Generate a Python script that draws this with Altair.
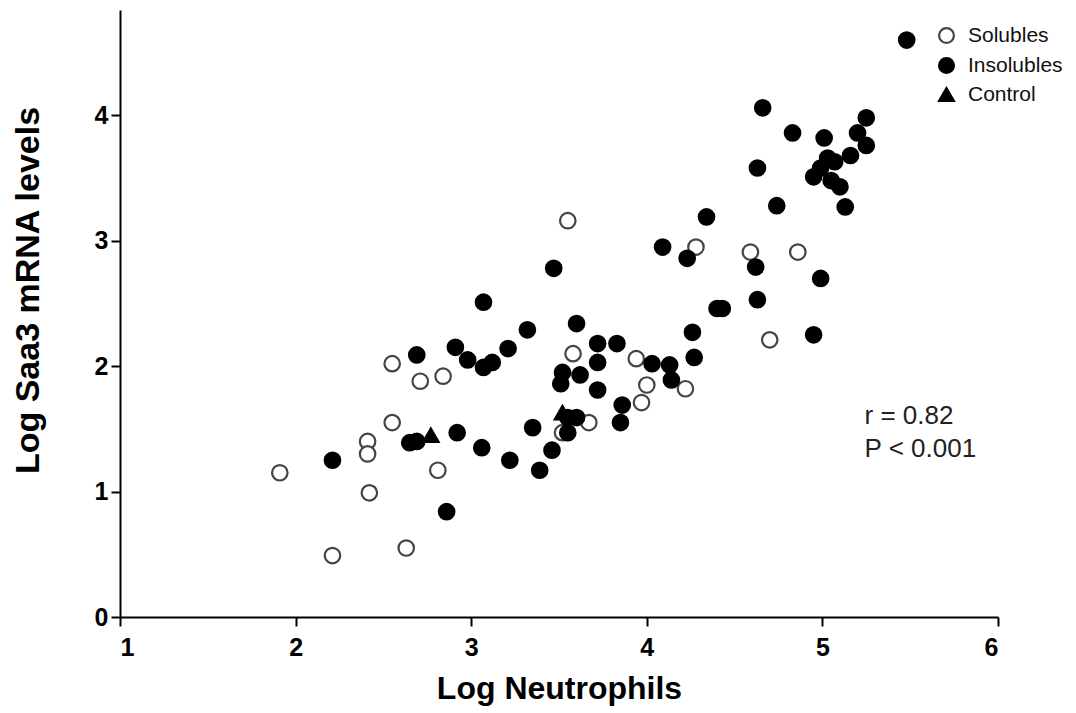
import altair as alt
import pandas as pd

# ---- data ----
sol_x = [1.91, 2.21, 2.41, 2.41, 2.42, 2.55, 2.55, 2.71, 2.84, 2.81, 2.63, 3.55,
         3.58, 3.67, 3.52, 3.94, 4.00, 3.97, 4.22, 4.28, 4.59, 4.86, 4.70]
sol_y = [1.15, 0.49, 1.40, 1.30, 0.99, 2.02, 1.55, 1.88, 1.92, 1.17, 0.55, 3.16,
         2.10, 1.55, 1.47, 2.06, 1.85, 1.71, 1.82, 2.95, 2.91, 2.91, 2.21]

ins_x = [2.21, 2.69, 2.65, 2.69, 2.86, 2.91, 2.92, 2.98, 3.07, 3.12, 3.07, 3.06,
         3.21, 3.22, 3.32, 3.35, 3.39, 3.46, 3.47, 3.51, 3.52, 3.55, 3.60, 3.55,
         3.60, 3.62, 3.72, 3.83, 3.72, 3.72, 3.86, 3.85, 4.03, 4.13, 4.14, 4.09,
         4.23, 4.34, 4.26, 4.27, 4.40, 4.43, 4.62, 4.63, 4.95, 4.99, 4.63, 4.66,
         4.74, 4.83, 4.95, 4.99, 5.01, 5.03, 5.07, 5.05, 5.10, 5.13, 5.16, 5.20,
         5.25, 5.25, 5.48]
ins_y = [1.25, 2.09, 1.39, 1.40, 0.84, 2.15, 1.47, 2.05, 1.99, 2.03, 2.51, 1.35,
         2.14, 1.25, 2.29, 1.51, 1.17, 1.33, 2.78, 1.86, 1.95, 1.59, 1.59, 1.47,
         2.34, 1.93, 2.18, 2.18, 2.03, 1.81, 1.69, 1.55, 2.02, 2.01, 1.89, 2.95,
         2.86, 3.19, 2.27, 2.07, 2.46, 2.46, 2.79, 2.53, 2.25, 2.70, 3.58, 4.06,
         3.28, 3.86, 3.51, 3.58, 3.82, 3.66, 3.63, 3.48, 3.43, 3.27, 3.68, 3.86,
         3.98, 3.76, 4.60]

ctl_x = [2.77, 3.52]
ctl_y = [1.45, 1.63]

groups = ["Solubles", "Insolubles", "Control"]
shapes = ["circle", "circle", "triangle-up"]
fills = ["white", "black", "black"]
strokes = ["#444444", "black", "black"]
draw_order = [0, 2, 1]

annot_text = ["r = 0.82", "P < 0.001"]
annot_x = [5.24, 5.24]
annot_y = [1.60, 1.34]

rows = []
for g, xs, ys in [("Solubles", sol_x, sol_y), ("Insolubles", ins_x, ins_y), ("Control", ctl_x, ctl_y)]:
    for a, b in zip(xs, ys):
        rows.append({"x": a, "y": b, "group": g, "ord": draw_order[groups.index(g)]})
df = pd.DataFrame(rows)
ann = pd.DataFrame({"x": annot_x, "y": annot_y, "t": annot_text})

FONT = "Liberation Sans"

xscale = alt.Scale(domain=[1, 6], nice=False, zero=False)
yscale = alt.Scale(domain=[0, 4.84], nice=False, zero=False)

points = alt.Chart(df).mark_point(size=240, opacity=1, fillOpacity=1, strokeWidth=2.2).encode(
    x=alt.X("x:Q", scale=xscale,
            axis=alt.Axis(title="Log Neutrophils", values=[1, 2, 3, 4, 5, 6], format="d",
                          titleX=439, titleY=81, titleBaseline="alphabetic", titleAlign="center",
                          titleFontSize=32)),
    y=alt.Y("y:Q", scale=yscale,
            axis=alt.Axis(title="Log Saa3 mRNA levels", values=[0, 1, 2, 3, 4], format="d",
                          titleX=-82, titleY=280, titleBaseline="alphabetic", titleAlign="center",
                          titleAngle=270, titleFontSize=34, labelPadding=3)),
    shape=alt.Shape("group:N", scale=alt.Scale(domain=groups, range=shapes), title=None),
    fill=alt.Fill("group:N", scale=alt.Scale(domain=groups, range=fills), title=None),
    stroke=alt.Stroke("group:N", scale=alt.Scale(domain=groups, range=strokes), title=None),
    order=alt.Order("ord:Q"),
)

annot = alt.Chart(ann).mark_text(align="left", baseline="middle", font=FONT, fontSize=26,
                                 color="#222222").encode(
    x=alt.X("x:Q", scale=xscale),
    y=alt.Y("y:Q", scale=yscale),
    text="t:N",
)

chart = alt.layer(points, annot).properties(
    width=878, height=607,
    autosize=alt.AutoSizeParams(type="none"),
    padding={"left": 112, "top": 2, "right": 70, "bottom": 92},
).configure_view(stroke=None).configure_axis(
    domainColor="black", domainWidth=2, tickColor="black", tickWidth=2, tickSize=9,
    grid=False, labelFont=FONT, labelFontSize=25, labelFontWeight="bold", labelColor="black",
    titleFont=FONT, titleFontWeight="bold", titleColor="black", labelPadding=9,
).configure_legend(
    orient="none", legendX=816, legendY=15, padding=0, title=None,
    labelFont=FONT, labelFontSize=21, labelColor="#111111", labelOffset=11,
    symbolSize=220, symbolStrokeWidth=2.2, rowPadding=5, symbolType="circle",
)

chart.save("out.html", embed_options={"renderer": "svg", "actions": False})
